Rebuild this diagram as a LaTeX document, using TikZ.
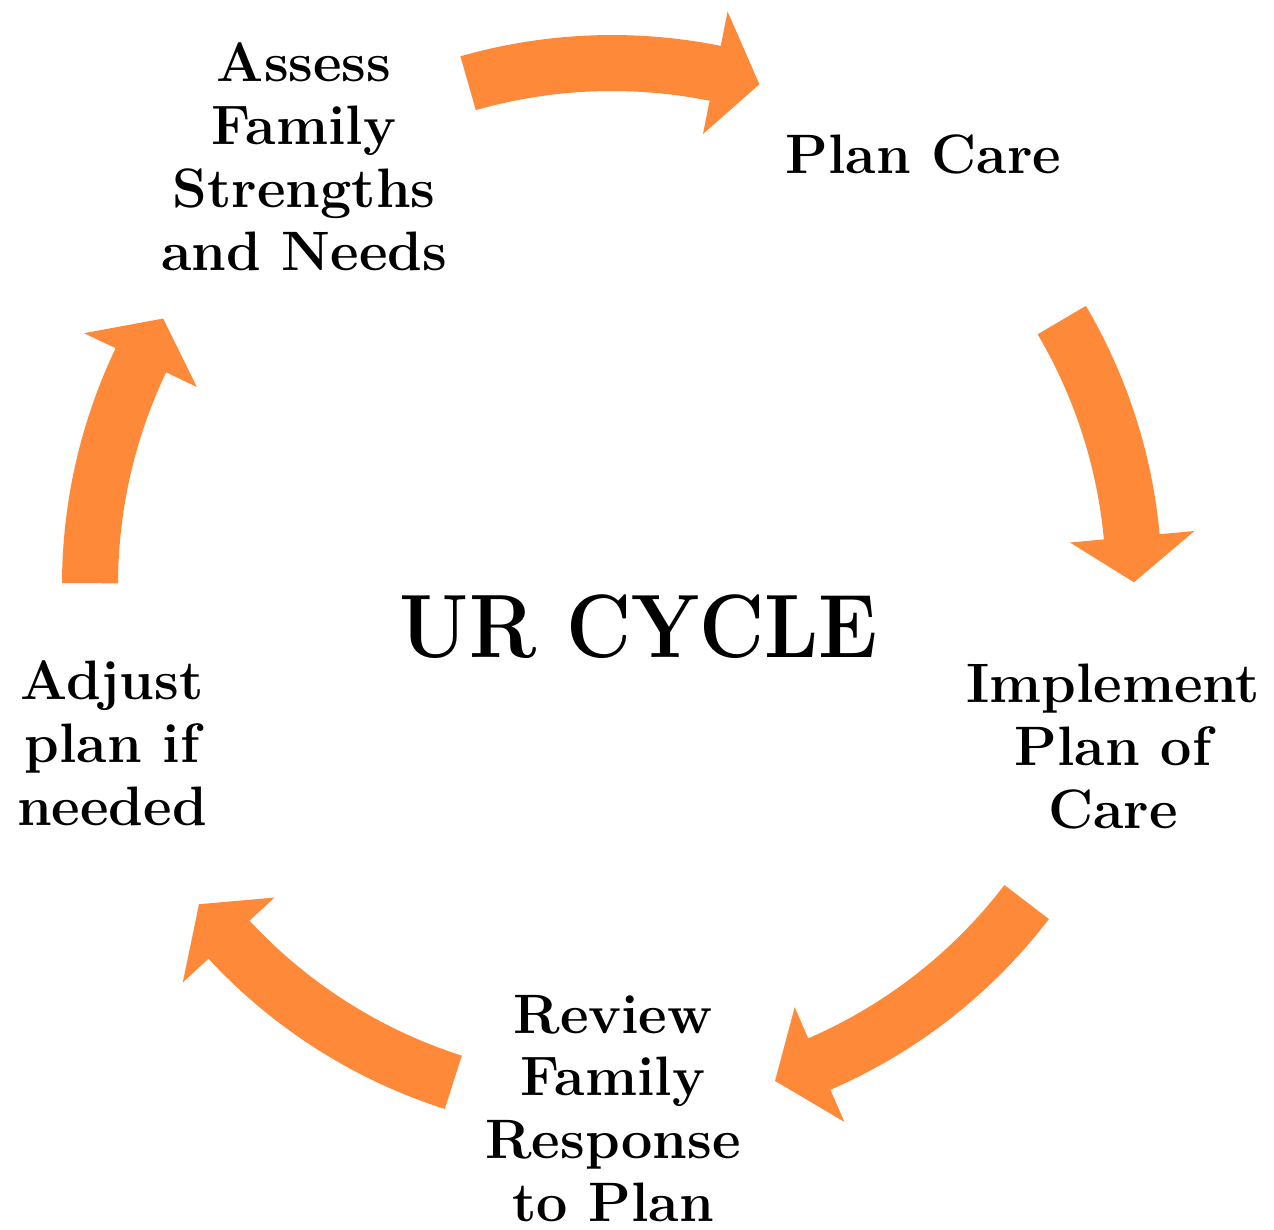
\documentclass[tikz,border=0pt]{standalone}
\usepackage{fontspec}
\usepackage{graphicx}
\definecolor{cycleorange}{RGB}{254,138,57}
\tikzset{
  steplabel/.style={align=center, inner sep=0pt, font=\fontsize{15.8}{17.9}\selectfont\bfseries},
  cyclearrow/.style={fill=cycleorange}
}
\begin{document}
\begin{tikzpicture}[x=0.01cm,y=0.01cm]
  \useasboundingbox (-612,-644) rectangle (662,585);
  \foreach \startang/\baseang/\tipang in {106/78.6/73.6, 30.5/5.3/0.3, -37.4/-66.6/-71.8, -107.7/-137.2/-142.3, 179.8/154.5/149.3} {
    \fill[cyclearrow] (\startang:550) arc[start angle=\startang, end angle=\baseang, radius=550]
      -- (\baseang:585) -- (\tipang:522) -- (\baseang:460) -- (\baseang:494)
      arc[start angle=\baseang, end angle=\startang, radius=494] -- cycle;
  }
  \node[steplabel] (assess) at (-308,428.5) {Assess\\Family\\Strengths\\and Needs};
  \node[steplabel, anchor=base] (plan) at (311.5,412) {Plan Care};
  \node[steplabel] (implement) at (501,-161.8) {Implement\\Plan of\\Care};
  \node[steplabel] (review) at (1,-523.5) {Review\\Family\\Response\\to Plan};
  \node[steplabel] (adjust) at (-500,-158) {Adjust\\plan if\\needed};
  \node[anchor=base, inner sep=0pt, font=\fontsize{25.6}{30}\selectfont\bfseries] (title) at (27,-72) {\scalebox{0.89}[1]{UR CYCLE}};
\end{tikzpicture}
\end{document}
